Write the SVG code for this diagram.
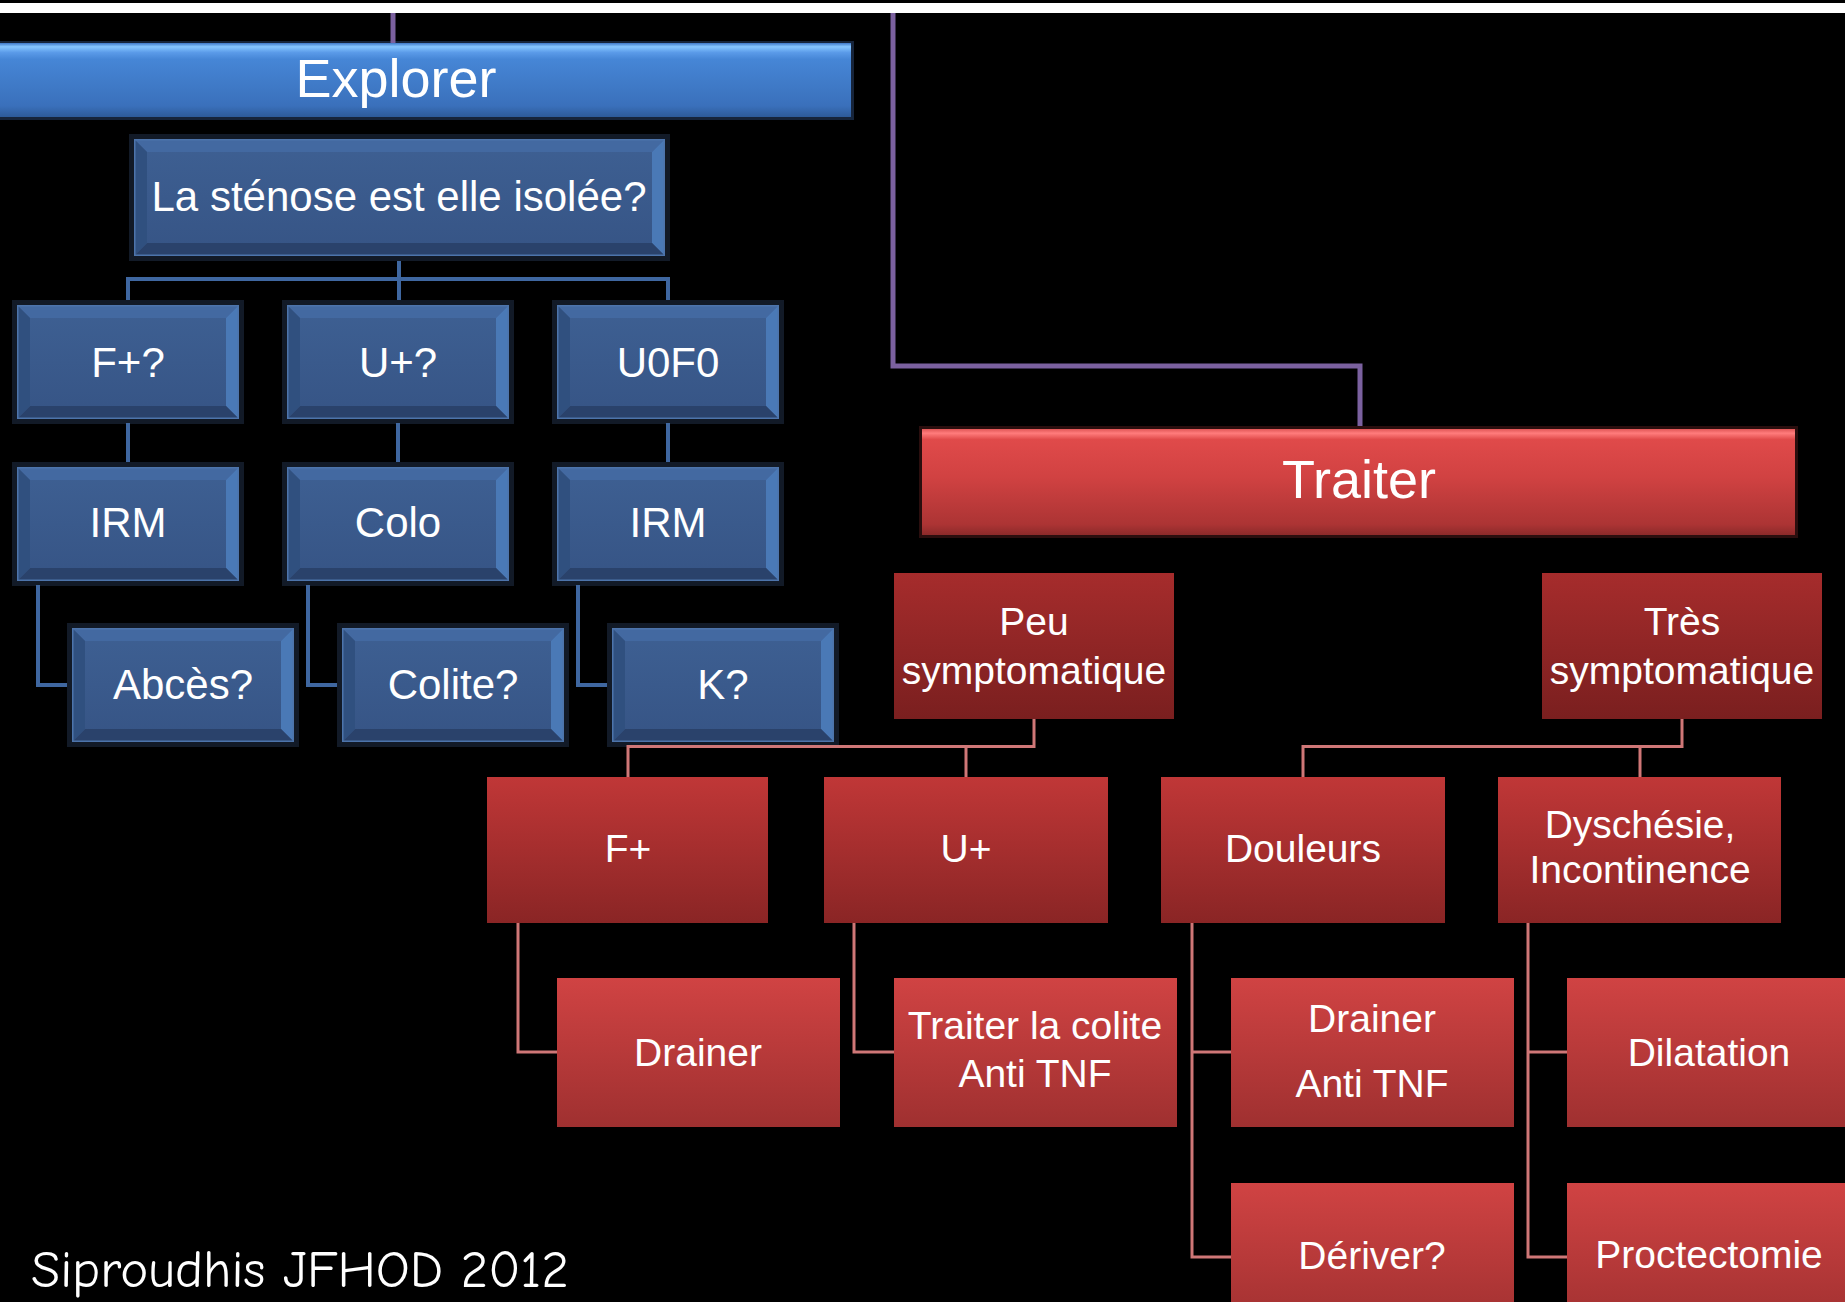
<svg xmlns="http://www.w3.org/2000/svg" xmlns:xlink="http://www.w3.org/1999/xlink" width="1845" height="1302" viewBox="0 0 1845 1302">
<style>
  .lbl { font-family: "Liberation Sans", Arial, sans-serif; fill: #ffffff; text-anchor: middle; }
  .big { font-size: 54px; }
  .blue { font-size: 42px; }
  .red { font-size: 39px; }
  .credit { font-family: "Comic Sans MS", "Comic Neue", "Liberation Sans", sans-serif; font-size: 53px; fill: #ffffff; }
  .conn-b { stroke: #3f67a0; stroke-width: 4; fill: none; }
  .conn-r { stroke: #cf7777; stroke-width: 3; fill: none; }
  .conn-p { stroke: #7b619f; stroke-width: 5; fill: none; }
</style>
<defs>
  <linearGradient id="gExplorer" x1="0" y1="0" x2="0" y2="1">
    <stop offset="0" stop-color="#3f78c8"/>
    <stop offset="0.05" stop-color="#86c6ff"/>
    <stop offset="0.13" stop-color="#5a9ae8"/>
    <stop offset="0.22" stop-color="#4686d6"/>
    <stop offset="0.85" stop-color="#3a70bb"/>
    <stop offset="1" stop-color="#2d5a98"/>
  </linearGradient>
  <linearGradient id="gTraiter" x1="0" y1="0" x2="0" y2="1">
    <stop offset="0" stop-color="#e05656"/>
    <stop offset="0.04" stop-color="#ff7c7c"/>
    <stop offset="0.1" stop-color="#e04a4a"/>
    <stop offset="0.45" stop-color="#d14242"/>
    <stop offset="0.9" stop-color="#ac3434"/>
    <stop offset="1" stop-color="#8c2a2a"/>
  </linearGradient>
  <linearGradient id="gBlueFace" x1="0" y1="0" x2="0" y2="1">
    <stop offset="0" stop-color="#3e6093"/>
    <stop offset="1" stop-color="#365485"/>
  </linearGradient>
  <linearGradient id="gRed1" x1="0" y1="0" x2="0" y2="1">
    <stop offset="0" stop-color="#a62c2c"/>
    <stop offset="1" stop-color="#7a1f1f"/>
  </linearGradient>
  <linearGradient id="gRed2" x1="0" y1="0" x2="0" y2="1">
    <stop offset="0" stop-color="#c03737"/>
    <stop offset="1" stop-color="#8a2525"/>
  </linearGradient>
  <linearGradient id="gRed3" x1="0" y1="0" x2="0" y2="1">
    <stop offset="0" stop-color="#d04343"/>
    <stop offset="1" stop-color="#9f3030"/>
  </linearGradient>

  <!-- bevelled blue box, 222 x 114 -->
  <g id="bbox">
    <rect x="-5" y="-5" width="232" height="124" fill="#121a27"/>
    <rect x="0" y="0" width="222" height="114" fill="url(#gBlueFace)"/>
    <polygon points="0,0 222,0 209,13 13,13" fill="#4369a1"/>
    <polygon points="222,0 222,114 209,101 209,13" fill="#4a79b6"/>
    <polygon points="0,114 222,114 209,101 13,101" fill="#2a426b"/>
    <polygon points="0,0 13,13 13,101 0,114" fill="#30507f"/>
    <rect x="0.75" y="0.75" width="220.5" height="112.5" fill="none" stroke="#4d74ab" stroke-width="1.5"/>
  </g>
</defs>

<rect x="0" y="0" width="1845" height="1302" fill="#000000"/>
<rect x="0" y="3" width="1845" height="10" fill="#ffffff"/>

<g id="explorer">
  <rect x="-5" y="41" width="859" height="79" fill="#16243a"/>
  <rect x="-5" y="43" width="856" height="74" fill="url(#gExplorer)"/>
  <text class="lbl big" x="396" y="97">Explorer</text>
</g>

<g id="stenose">
  <rect x="129" y="134" width="541" height="127" fill="#121a27"/>
  <rect x="134" y="139" width="531" height="117" fill="url(#gBlueFace)"/>
  <polygon points="134,139 665,139 652,152 147,152" fill="#4369a1"/>
  <polygon points="665,139 665,256 652,243 652,152" fill="#4a79b6"/>
  <polygon points="134,256 665,256 652,243 147,243" fill="#2a426b"/>
  <polygon points="134,139 147,152 147,243 134,256" fill="#30507f"/>
  <rect x="134.75" y="139.75" width="529.5" height="115.5" fill="none" stroke="#4d74ab" stroke-width="1.5"/>
  <text class="lbl blue" x="399" y="211">La sténose est elle isolée?</text>
</g>

<g id="fistule-q" transform="translate(17,305)">
  <use xlink:href="#bbox"/>
  <text class="lbl blue" x="111" y="72">F+?</text>
</g>
<g id="ulcere-q" transform="translate(287,305)">
  <use xlink:href="#bbox"/>
  <text class="lbl blue" x="111" y="72">U+?</text>
</g>
<g id="u0f0" transform="translate(557,305)">
  <use xlink:href="#bbox"/>
  <text class="lbl blue" x="111" y="72">U0F0</text>
</g>

<g id="irm-1" transform="translate(17,467)">
  <use xlink:href="#bbox"/>
  <text class="lbl blue" x="111" y="70">IRM</text>
</g>
<g id="colo" transform="translate(287,467)">
  <use xlink:href="#bbox"/>
  <text class="lbl blue" x="111" y="70">Colo</text>
</g>
<g id="irm-2" transform="translate(557,467)">
  <use xlink:href="#bbox"/>
  <text class="lbl blue" x="111" y="70">IRM</text>
</g>

<g id="abces" transform="translate(72,628)">
  <use xlink:href="#bbox"/>
  <text class="lbl blue" x="111" y="71">Abcès?</text>
</g>
<g id="colite" transform="translate(342,628)">
  <use xlink:href="#bbox"/>
  <text class="lbl blue" x="111" y="71">Colite?</text>
</g>
<g id="cancer" transform="translate(612,628)">
  <use xlink:href="#bbox"/>
  <text class="lbl blue" x="111" y="71">K?</text>
</g>

<!-- all connectors: orthogonal elbows from parent bottom to child top/left -->
<g id="connectors">
  <path class="conn-p" d="M393,13 V43"/>
  <path class="conn-p" d="M893,13 V366 H1360 V429"/>

  <path class="conn-b" d="M399,261 V300 M128,300 V279 H668 V300"/>
  <path class="conn-b" d="M128,423 V462 M398,423 V462 M668,423 V462"/>
  <path class="conn-b" d="M38,585 V685 H67 M308,585 V685 H337 M578,585 V685 H607"/>

  <path class="conn-r" d="M1034,719 V746.5 H628 V777 M966,746.5 V777"/>
  <path class="conn-r" d="M1682,719 V746.5 H1303 V777 M1640,746.5 V777"/>
  <path class="conn-r" d="M518,923 V1052 H557"/>
  <path class="conn-r" d="M854,923 V1052 H894"/>
  <path class="conn-r" d="M1192,923 V1257 H1231 M1192,1052 H1231"/>
  <path class="conn-r" d="M1528,923 V1257 H1567 M1528,1052 H1567"/>
</g>

<g id="traiter">
  <rect x="919" y="426" width="879" height="112" fill="#2a0e0e"/>
  <rect x="922" y="429" width="873" height="106" fill="url(#gTraiter)"/>
  <text class="lbl big" x="1359" y="498">Traiter</text>
</g>

<g id="peu-sympto">
  <rect x="894" y="573" width="280" height="146" fill="url(#gRed1)"/>
  <text class="lbl red" x="1034" y="635">Peu</text>
  <text class="lbl red" x="1034" y="684">symptomatique</text>
</g>
<g id="tres-sympto">
  <rect x="1542" y="573" width="280" height="146" fill="url(#gRed1)"/>
  <text class="lbl red" x="1682" y="635">Très</text>
  <text class="lbl red" x="1682" y="684">symptomatique</text>
</g>

<g id="fistule">
  <rect x="487" y="777" width="281" height="146" fill="url(#gRed2)"/>
  <text class="lbl red" x="628" y="862">F+</text>
</g>
<g id="ulcere">
  <rect x="824" y="777" width="284" height="146" fill="url(#gRed2)"/>
  <text class="lbl red" x="966" y="862">U+</text>
</g>
<g id="douleurs">
  <rect x="1161" y="777" width="284" height="146" fill="url(#gRed2)"/>
  <text class="lbl red" x="1303" y="862">Douleurs</text>
</g>
<g id="dyschesie">
  <rect x="1498" y="777" width="283" height="146" fill="url(#gRed2)"/>
  <text class="lbl red" x="1640" y="838">Dyschésie,</text>
  <text class="lbl red" x="1640" y="883">Incontinence</text>
</g>

<g id="drainer">
  <rect x="557" y="978" width="283" height="149" fill="url(#gRed3)"/>
  <text class="lbl red" x="698" y="1066">Drainer</text>
</g>
<g id="traiter-colite">
  <rect x="894" y="978" width="283" height="149" fill="url(#gRed3)"/>
  <text class="lbl red" x="1035" y="1039">Traiter la colite</text>
  <text class="lbl red" x="1035" y="1087">Anti TNF</text>
</g>
<g id="drainer-antitnf">
  <rect x="1231" y="978" width="283" height="149" fill="url(#gRed3)"/>
  <text class="lbl red" x="1372" y="1032">Drainer</text>
  <text class="lbl red" x="1372" y="1097">Anti TNF</text>
</g>
<g id="dilatation">
  <rect x="1567" y="978" width="283" height="149" fill="url(#gRed3)"/>
  <text class="lbl red" x="1709" y="1066">Dilatation</text>
</g>
<g id="deriver">
  <rect x="1231" y="1183" width="283" height="149" fill="url(#gRed3)"/>
  <text class="lbl red" x="1372" y="1269">Dériver?</text>
</g>
<g id="proctectomie">
  <rect x="1567" y="1183" width="283" height="149" fill="url(#gRed3)"/>
  <text class="lbl red" x="1709" y="1268">Proctectomie</text>
</g>

<text class="credit" x="31" y="1287" textLength="538">Siproudhis JFHOD 2012</text>
</svg>
